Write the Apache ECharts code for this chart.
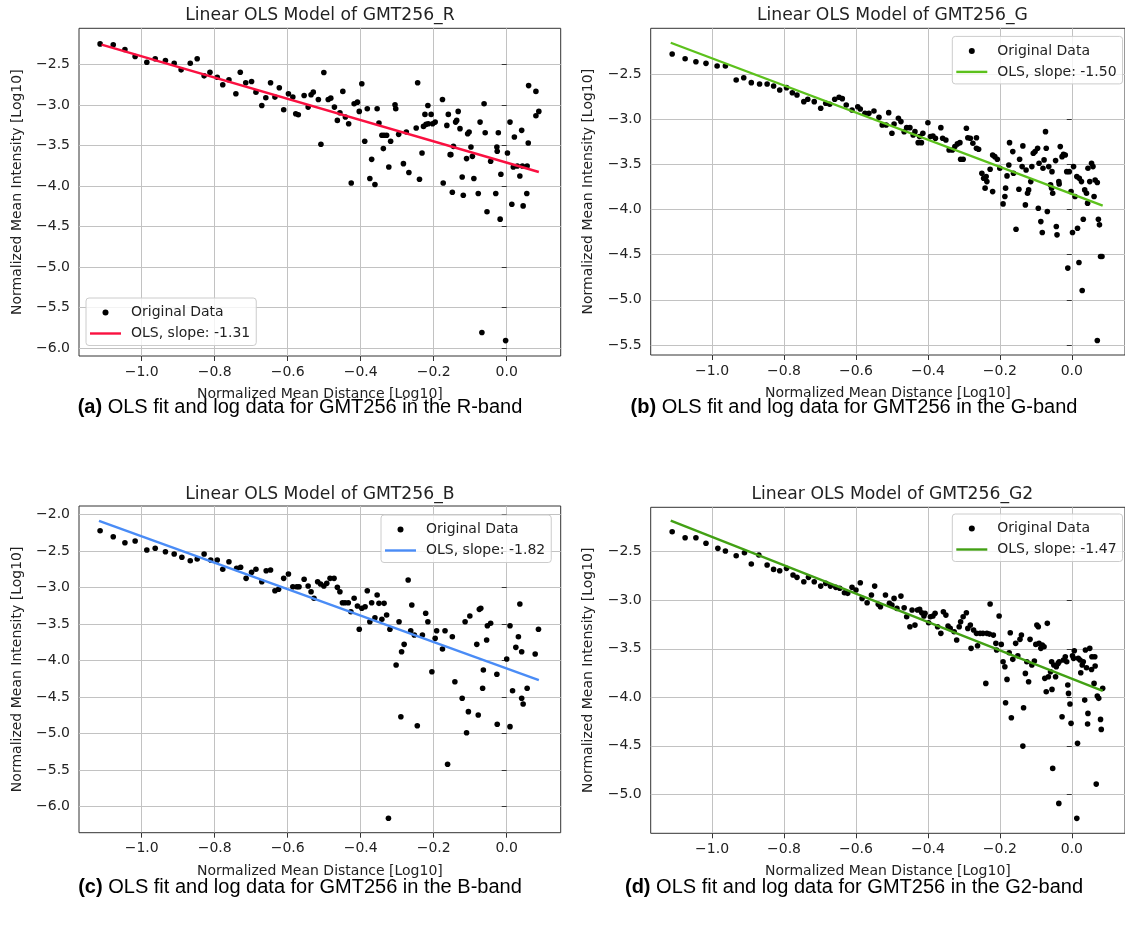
<!DOCTYPE html>
<html><head><meta charset="utf-8">
<script src="https://cdn.jsdelivr.net/npm/echarts@6/dist/echarts.min.js"></script>
<style>html,body{margin:0;padding:0;background:#fff}#c{width:1125px;height:928px}</style>
</head><body><div id="c"></div>
<script>
// ---------------- data ----------------
const xTickLabels = [-1.0, -0.8, -0.6, -0.4, -0.2, 0.0];
const yTickLabelsA = [-6.0, -5.5, -5.0, -4.5, -4.0, -3.5, -3.0, -2.5];
const yTickLabelsB = [-5.5, -5.0, -4.5, -4.0, -3.5, -3.0, -2.5];
const yTickLabelsC = [-6.0, -5.5, -5.0, -4.5, -4.0, -3.5, -3.0, -2.5, -2.0];
const yTickLabelsD = [-5.0, -4.5, -4.0, -3.5, -3.0, -2.5];

const titles = ['Linear OLS Model of GMT256_R', 'Linear OLS Model of GMT256_G', 'Linear OLS Model of GMT256_B', 'Linear OLS Model of GMT256_G2'];
const captionTags = ['(a)', '(b)', '(c)', '(d)'];
const captionTexts = [' OLS fit and log data for GMT256 in the R-band', ' OLS fit and log data for GMT256 in the G-band', ' OLS fit and log data for GMT256 in the B-band', ' OLS fit and log data for GMT256 in the G2-band'];
const olsNames = ['OLS, slope: -1.31', 'OLS, slope: -1.50', 'OLS, slope: -1.82', 'OLS, slope: -1.47'];

const dataA = [[-1.114,-2.248],[-1.078,-2.26],[-1.046,-2.318],[-1.018,-2.404],[-0.986,-2.474],[-0.963,-2.432],[-0.935,-2.453],[-0.911,-2.486],[-0.892,-2.568],[-0.867,-2.486],[-0.848,-2.432],[-0.829,-2.642],[-0.813,-2.597],[-0.793,-2.659],[-0.778,-2.752],[-0.761,-2.691],[-0.742,-2.863],[-0.73,-2.597],[-0.715,-2.728],[-0.699,-2.711],[-0.687,-2.843],[-0.671,-3.007],[-0.66,-2.912],[-0.647,-2.728],[-0.635,-2.904],[-0.623,-2.789],[-0.611,-3.06],[-0.598,-2.863],[-0.586,-2.904],[-0.578,-3.109],[-0.571,-3.121],
[-0.555,-2.884],[-0.544,-3.027],[-0.536,-2.875],[-0.53,-2.843],[-0.516,-2.933],[-0.509,-3.486],[-0.501,-2.601],[-0.489,-2.933],[-0.482,-2.917],[-0.472,-3.027],[-0.464,-3.191],[-0.457,-3.096],[-0.449,-2.834],[-0.442,-3.15],[-0.433,-3.232],[-0.426,-3.962],[-0.418,-2.986],[-0.409,-2.966],[-0.404,-3.08],[-0.397,-2.74],[-0.389,-3.449],[-0.382,-3.047],[-0.375,-3.908],[-0.37,-3.671],[-0.361,-3.982],[-0.355,-3.047],[-0.35,-3.224],[-0.342,-3.375],[-0.336,-3.375],[-0.329,-3.375],[-0.338,-3.539],[-0.323,-3.765],[-0.318,-3.449],[-0.306,-2.998],[-0.304,-3.047],[-0.296,-3.363],[-0.283,-3.724],[-0.275,-3.335],[-0.268,-3.834],[-0.248,-3.285],[-0.244,-2.728],[-0.239,-3.917],[-0.232,-3.593],[-0.228,-3.265],[-0.221,-3.24],[-0.224,-3.117],[-0.216,-3.007],[-0.215,-3.232],[-0.207,-3.117],[-0.203,-3.232],[-0.196,-3.212],[-0.176,-2.933],[-0.174,-3.962],[-0.164,-3.253],[-0.16,-3.117],[-0.155,-3.613],[-0.153,-3.613],[-0.149,-4.076],[-0.146,-3.511],[-0.14,-3.212],[-0.137,-3.191],[-0.133,-3.08],[-0.128,-3.293],[-0.122,-3.888],[-0.119,-4.113],[-0.11,-3.662],[-0.107,-3.355],[-0.103,-3.335],[-0.098,-3.519],[-0.094,-3.634],[-0.09,-3.908],[-0.078,-4.093],[-0.073,-3.212],[-0.068,-5.806],[-0.062,-2.986],[-0.059,-3.343],[-0.054,-4.318],[-0.044,-3.695],[-0.03,-4.093],[-0.027,-3.519],[-0.026,-3.572],[-0.023,-3.343],[-0.018,-4.408],[-0.016,-3.855],[-0.003,-5.905],[0.002,-3.593],[0.009,-3.212],[0.014,-4.224],[0.018,-3.765],[0.021,-3.396],[0.029,-3.753],[0.036,-3.876],[0.041,-3.314],[0.043,-3.753],[0.045,-4.245],[0.055,-4.093],[0.056,-3.753],[0.059,-3.47],[0.06,-2.762],[0.08,-2.834],[0.08,-3.134],[0.088,-3.08]];

const dataB = [[-1.111,-2.279],[-1.075,-2.331],[-1.045,-2.364],[-1.017,-2.382],[-0.986,-2.412],[-0.963,-2.412],[-0.933,-2.566],[-0.912,-2.541],[-0.891,-2.596],[-0.868,-2.611],[-0.847,-2.611],[-0.829,-2.633],[-0.812,-2.677],[-0.793,-2.651],[-0.777,-2.707],[-0.764,-2.732],[-0.745,-2.806],[-0.734,-2.78],[-0.716,-2.806],[-0.698,-2.879],[-0.684,-2.824],[-0.673,-2.835],[-0.659,-2.78],[-0.647,-2.758],[-0.638,-2.773],[-0.627,-2.843],
[-0.611,-2.898],[-0.595,-2.862],[-0.588,-2.887],[-0.575,-2.935],[-0.564,-2.935],[-0.55,-2.909],[-0.536,-2.979],[-0.527,-3.064],[-0.516,-3.064],[-0.509,-2.928],[-0.5,-3.156],[-0.494,-3.053],[-0.482,-2.99],[-0.475,-3.027],[-0.466,-3.138],[-0.459,-3.094],[-0.45,-3.094],[-0.441,-3.175],[-0.436,-3.138],[-0.427,-3.26],[-0.418,-3.26],[-0.423,-3.193],[-0.414,-3.156],[-0.4,-3.039],[-0.393,-3.193],[-0.386,-3.186],[-0.379,-3.211],[-0.364,-3.094],[-0.359,-3.211],[-0.35,-3.23],[-0.341,-3.341],[-0.332,-3.341],[-0.325,-3.304],[-0.318,-3.274],[-0.311,-3.26],[-0.309,-3.444],[-0.302,-3.444],[-0.293,-3.101],[-0.289,-3.205],[-0.282,-3.211],[-0.275,-3.267],[-0.265,-3.205],[-0.265,-3.322],[-0.259,-3.333],[-0.25,-3.598],[-0.245,-3.654],[-0.241,-3.764],[-0.236,-3.691],[-0.238,-3.636],[-0.227,-3.554],[-0.22,-3.802],[-0.22,-3.396],[-0.214,-3.415],[-0.207,-3.444],[-0.2,-3.543],[-0.191,-3.938],[-0.186,-3.857],[-0.184,-3.764],[-0.18,-3.628],[-0.175,-3.507],[-0.173,-3.26],[-0.164,-3.359],[-0.162,-3.598],[-0.155,-4.218],[-0.147,-3.776],[-0.145,-3.444],[-0.138,-3.525],[-0.136,-3.296],[-0.129,-3.949],[-0.127,-3.562],[-0.123,-3.82],[-0.12,-3.783],[-0.114,-3.691],[-0.111,-3.525],[-0.107,-3.377],[-0.102,-3.359],[-0.095,-3.322],[-0.093,-3.986],[-0.091,-3.488],[-0.086,-4.134],[-0.082,-4.255],[-0.08,-3.543],[-0.077,-3.451],[-0.073,-3.138],[-0.071,-3.322],[-0.068,-4.023],[-0.064,-3.525],[-0.059,-3.728],[-0.056,-3.764],[-0.055,-3.581],[-0.053,-3.82],[-0.045,-3.459],[-0.043,-4.189],[-0.041,-4.281],[-0.036,-3.691],[-0.035,-3.717],[-0.032,-3.304],[-0.027,-3.415],[-0.023,-3.389],[-0.018,-3.396],[-0.014,-3.581],[-0.011,-4.649],[-0.007,-3.581],[-0.002,-3.802],[0.002,-4.255],[0.005,-3.525],[0.009,-3.857],[0.014,-3.636],[0.016,-4.207],[0.02,-4.587],[0.021,-3.654],[0.027,-3.691],[0.029,-4.897],[0.032,-4.108],[0.036,-3.783],[0.041,-3.82],[0.044,-3.93],[0.045,-3.543],[0.05,-3.691],[0.055,-3.488],[0.059,-3.525],[0.062,-3.857],[0.065,-3.673],[0.071,-3.702],[0.071,-5.45],[0.074,-4.108],[0.077,-4.17],[0.08,-4.521],[0.084,-4.521]];

const dataC = [[-1.114,-2.224],[-1.078,-2.306],[-1.046,-2.388],[-1.018,-2.365],[-0.986,-2.488],[-0.963,-2.465],[-0.935,-2.511],[-0.911,-2.543],[-0.89,-2.588],[-0.867,-2.635],[-0.848,-2.611],[-0.829,-2.543],[-0.811,-2.625],[-0.793,-2.625],[-0.778,-2.752],[-0.761,-2.648],[-0.74,-2.739],[-0.729,-2.725],[-0.714,-2.876],[-0.699,-2.794],[-0.687,-2.752],[-0.671,-2.922],[-0.659,-2.771],[-0.647,-2.762],[-0.635,-3.045],[-0.625,-3.026],[-0.611,-2.876],[-0.598,-2.817],[-0.586,-2.99],[-0.575,-2.99],[-0.569,-2.99],
[-0.555,-2.889],[-0.544,-2.981],[-0.536,-3.059],[-0.528,-3.149],[-0.518,-2.922],[-0.51,-2.953],[-0.501,-2.981],[-0.493,-2.944],[-0.484,-2.876],[-0.473,-2.876],[-0.464,-2.999],[-0.457,-3.059],[-0.45,-3.209],[-0.443,-3.209],[-0.434,-3.209],[-0.427,-3.332],[-0.418,-3.149],[-0.409,-3.254],[-0.404,-3.573],[-0.397,-3.286],[-0.388,-3.264],[-0.382,-3.045],[-0.375,-3.469],[-0.37,-3.209],[-0.361,-3.414],[-0.355,-3.104],[-0.35,-3.218],[-0.342,-3.436],[-0.336,-3.218],[-0.329,-3.377],[-0.32,-3.573],[-0.324,-6.159],[-0.303,-4.062],[-0.295,-3.469],[-0.288,-3.88],[-0.281,-3.779],[-0.29,-4.769],[-0.27,-2.899],[-0.263,-3.592],[-0.26,-3.241],[-0.253,-3.651],[-0.245,-4.892],[-0.231,-3.651],[-0.222,-3.354],[-0.216,-3.469],[-0.205,-4.153],[-0.196,-3.697],[-0.192,-3.592],[-0.176,-3.843],[-0.169,-3.592],[-0.162,-5.42],[-0.149,-3.674],[-0.142,-4.29],[-0.122,-4.517],[-0.114,-3.469],[-0.11,-4.988],[-0.105,-4.7],[-0.101,-3.391],[-0.082,-3.779],[-0.078,-4.746],[-0.075,-3.3],[-0.071,-3.286],[-0.064,-4.13],[-0.066,-4.38],[-0.055,-3.72],[-0.053,-3.524],[-0.044,-3.491],[-0.027,-4.189],[-0.026,-4.873],[0.0,-3.979],[0.009,-3.524],[0.009,-4.905],[0.016,-4.413],[0.025,-3.82],[0.032,-3.674],[0.036,-3.227],[0.041,-3.88],[0.041,-4.517],[0.045,-4.595],[0.056,-4.38],[0.078,-3.911],[0.087,-3.573]];

const dataD = [[-1.111,-2.294],[-1.075,-2.356],[-1.045,-2.356],[-1.017,-2.413],[-0.984,-2.465],[-0.963,-2.493],[-0.933,-2.541],[-0.91,-2.51],[-0.891,-2.627],[-0.87,-2.534],[-0.847,-2.637],[-0.829,-2.682],[-0.812,-2.696],[-0.793,-2.671],[-0.775,-2.74],[-0.764,-2.764],[-0.745,-2.809],[-0.732,-2.764],[-0.716,-2.809],[-0.698,-2.854],[-0.684,-2.826],[-0.671,-2.854],[-0.656,-2.867],[-0.645,-2.877],[-0.632,-2.923],
[-0.623,-2.929],[-0.611,-2.867],[-0.6,-2.895],[-0.588,-2.82],[-0.583,-2.981],[-0.569,-3.026],[-0.557,-2.946],[-0.548,-2.854],[-0.538,-3.042],[-0.532,-3.067],[-0.518,-2.946],[-0.507,-3.032],[-0.5,-3.049],[-0.494,-2.981],[-0.486,-3.084],[-0.475,-2.957],[-0.466,-3.077],[-0.459,-3.17],[-0.45,-3.273],[-0.444,-3.101],[-0.436,-3.256],[-0.429,-3.101],[-0.423,-3.094],[-0.417,-3.129],[-0.411,-3.163],[-0.408,-3.135],[-0.398,-3.232],[-0.393,-3.17],[-0.386,-3.163],[-0.38,-3.135],[-0.373,-3.273],[-0.364,-3.341],[-0.357,-3.119],[-0.35,-3.153],[-0.344,-3.266],[-0.338,-3.29],[-0.327,-3.325],[-0.32,-3.41],[-0.313,-3.273],[-0.309,-3.222],[-0.302,-3.17],[-0.293,-3.129],[-0.289,-3.29],[-0.282,-3.256],[-0.28,-3.496],[-0.273,-3.307],[-0.265,-3.341],[-0.262,-3.469],[-0.255,-3.341],[-0.247,-3.341],[-0.239,-3.857],[-0.236,-3.341],[-0.229,-3.349],[-0.227,-3.039],[-0.218,-3.359],[-0.211,-3.444],[-0.209,-3.513],[-0.202,-3.163],[-0.196,-3.455],[-0.191,-3.634],[-0.186,-3.686],[-0.184,-4.056],[-0.18,-3.816],[-0.174,-3.541],[-0.171,-3.335],[-0.168,-4.211],[-0.164,-3.609],[-0.156,-3.444],[-0.15,-3.572],[-0.144,-3.403],[-0.14,-3.359],[-0.136,-4.503],[-0.134,-4.108],[-0.129,-3.754],[-0.125,-3.634],[-0.12,-3.84],[-0.116,-3.403],[-0.111,-3.668],[-0.104,-3.627],[-0.1,-3.455],[-0.097,-3.256],[-0.093,-3.273],[-0.091,-3.444],[-0.086,-3.496],[-0.082,-3.462],[-0.077,-3.479],[-0.071,-3.943],[-0.075,-3.805],[-0.068,-3.238],[-0.065,-3.789],[-0.059,-3.737],[-0.056,-3.634],[-0.055,-3.919],[-0.053,-4.733],[-0.05,-3.668],[-0.045,-3.789],[-0.043,-3.686],[-0.038,-3.651],[-0.036,-5.094],[-0.035,-3.634],[-0.027,-4.201],[-0.023,-3.616],[-0.018,-3.582],[-0.014,-3.634],[-0.011,-3.874],[-0.009,-3.96],[-0.005,-4.07],[-0.002,-4.269],[0.002,-3.572],[0.005,-3.599],[0.007,-3.52],[0.014,-5.248],[0.016,-4.475],[0.018,-3.599],[0.023,-3.616],[0.025,-3.747],[0.029,-3.668],[0.032,-3.634],[0.036,-4.029],[0.038,-3.513],[0.041,-3.696],[0.044,-4.276],[0.045,-4.166],[0.05,-3.496],[0.055,-3.713],[0.056,-3.582],[0.062,-3.857],[0.064,-3.582],[0.065,-3.678],[0.068,-4.895],[0.071,-3.988],[0.075,-4.011],[0.08,-4.228],[0.082,-4.331],[0.086,-3.908]];

// OLS fitted line end points (x, y)
const fitA = [[-1.11, -2.258], [0.088, -3.827]];
const fitB = [[-1.115, -2.154], [0.086, -3.957]];
const fitC = [[-1.117, -2.088], [0.088, -4.267]];
const fitD = [[-1.115, -2.18], [0.086, -3.933]];

// ---------------- layout / style ----------------
const datasets = [dataA, dataB, dataC, dataD];
const fits = [fitA, fitB, fitC, fitD];
const yTicks = [yTickLabelsA, yTickLabelsB, yTickLabelsC, yTickLabelsD];
const lineColors = ['#fa1040', '#5cc11c', '#4a8cf6', '#42a014'];
const grids = [
  {left: 79, top: 28.3, width: 481.7, height: 327.7},
  {left: 650.7, top: 28.3, width: 483.6, height: 326.7},
  {left: 79, top: 506, width: 481.7, height: 326.7},
  {left: 650.7, top: 507.3, width: 483.6, height: 326}
];
const xRanges = [[-1.1718, 0.1479], [-1.1707, 0.148], [-1.1718, 0.1479], [-1.1707, 0.148]];
const yRanges = [[-6.095, -2.056], [-5.611, -1.994], [-6.356, -1.886], [-5.402, -2.042]];
const legendPos = [[86, 298], [952.3, 36.4], [381, 515], [952.3, 514]];
const titlePos = [[319.9, 15.5], [892.4, 15.5], [319.9, 495], [892.4, 495]];
const captionPos = [[300, 407.5], [854, 407.5], [300, 887.5], [854, 887.5]];

const TXT = '#222';
const FONT = 'DejaVu Sans';
const fmt = v => (v < 0 ? '\u2212' : '') + Math.abs(v).toFixed(1);

const option = {
  animation: false,
  backgroundColor: '#fff',
  grid: [], xAxis: [], yAxis: [], series: [], legend: [], title: []
};

for (let i = 0; i < 4; i++) {
  option.grid.push(Object.assign({show: true, borderColor: '#333', borderWidth: 1, backgroundColor: 'transparent', containLabel: false}, grids[i]));
  option.xAxis.push({
    type: 'value', gridIndex: i, min: xRanges[i][0], max: xRanges[i][1],
    minInterval: 0.2, maxInterval: 0.2, splitNumber: 6,
    axisLine: {show: false},
    axisTick: {show: true, inside: false, length: 5, lineStyle: {color: '#333', width: 1}, customValues: xTickLabels},
    axisLabel: {show: true, margin: 9, fontFamily: FONT, fontSize: 14, color: TXT, formatter: fmt, customValues: xTickLabels},
    splitLine: {show: true, lineStyle: {color: '#c2c2c2', width: 1}},
    name: 'Normalized Mean Distance [Log10]', nameLocation: 'middle', nameGap: 31.5,
    nameTextStyle: {fontFamily: FONT, fontSize: 14, color: TXT}
  });
  option.yAxis.push({
    type: 'value', gridIndex: i, min: yRanges[i][0], max: yRanges[i][1],
    minInterval: 0.5, maxInterval: 0.5, splitNumber: 8,
    axisLine: {show: false},
    axisTick: {show: true, inside: false, length: 5, lineStyle: {color: '#333', width: 1}, customValues: yTicks[i]},
    axisLabel: {show: true, margin: 9, fontFamily: FONT, fontSize: 14, color: TXT, formatter: fmt, customValues: yTicks[i]},
    splitLine: {show: true, lineStyle: {color: '#c2c2c2', width: 1}},
    name: 'Normalized Mean Intensity [Log10]', nameLocation: 'middle', nameGap: 55,
    nameTextStyle: {fontFamily: FONT, fontSize: 14, color: TXT}
  });
  option.series.push({
    type: 'scatter', name: 'Original Data', xAxisIndex: i, yAxisIndex: i,
    data: datasets[i], symbol: 'circle', symbolSize: 5.6, itemStyle: {color: '#000', opacity: 1}, z: 2, silent: true
  });
  option.series.push({
    type: 'line', name: olsNames[i], xAxisIndex: i, yAxisIndex: i, data: fits[i],
    symbol: 'none', showSymbol: false, color: lineColors[i],
    lineStyle: {color: lineColors[i], width: 2.4}, itemStyle: {color: lineColors[i]}, z: 3, silent: true
  });
  option.legend.push({
    orient: 'vertical', left: legendPos[i][0], top: legendPos[i][1],
    padding: [7, 6, 4.5, 4], itemGap: 6, itemWidth: 31, itemHeight: 6,
    backgroundColor: 'rgba(255,255,255,0.8)', borderColor: '#cccccc', borderWidth: 1, borderRadius: 3,
    selectedMode: false, z: 10,
    itemStyle: {borderWidth: 0},
    textStyle: {fontFamily: FONT, fontSize: 14, color: TXT, lineHeight: 15, padding: [0, 0, 0, 5]},
    data: [
      {name: 'Original Data', icon: 'circle', itemStyle: {color: '#000', borderWidth: 0}},
      {name: olsNames[i], icon: 'path://M0 0M31 6M0 1.8H31V4.2H0Z', itemStyle: {color: lineColors[i], borderWidth: 0}}
    ]
  });
  option.title.push({
    text: titles[i], left: titlePos[i][0], top: titlePos[i][1], padding: 0,
    textAlign: 'center', textVerticalAlign: 'middle',
    textStyle: {fontFamily: FONT, fontSize: 17.2, fontWeight: 'normal', color: TXT}
  });
  option.title.push({
    text: '{b|' + captionTags[i] + '}' + captionTexts[i], left: captionPos[i][0], top: captionPos[i][1], padding: 0,
    textAlign: 'center', textVerticalAlign: 'middle',
    textStyle: {fontFamily: 'Liberation Sans', fontSize: 20, fontWeight: 'normal', color: '#000',
      rich: {b: {fontFamily: 'Liberation Sans', fontSize: 20, fontWeight: 'bold', color: '#000'}}}
  });
}

const chart = echarts.init(document.getElementById('c'), null, {renderer: 'canvas', width: 1125, height: 928});
chart.setOption(option);
</script>
</body></html>
